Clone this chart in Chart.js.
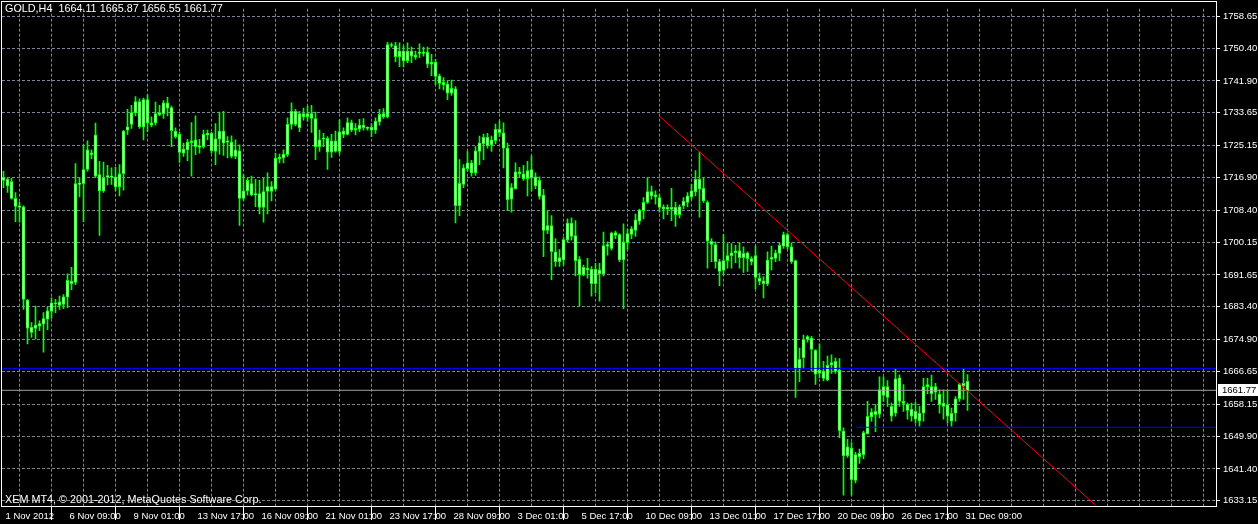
<!DOCTYPE html>
<html>
<head>
<meta charset="utf-8">
<script src="https://cdn.jsdelivr.net/npm/chart.js@4/dist/chart.umd.min.js"></script>
<style>
  html, body { margin: 0; padding: 0; background: #000; }
  #wrap { width: 1258px; height: 524px; }
</style>
</head>
<body>
<div id="wrap"><canvas id="grafico" width="1258" height="524"></canvas></div>
<script>
// GOLD H4, 1 Nov 2012 .. 31 Dec 2012, one value per bar
const open = [
  1716.91,1716.40,1715.81,1711.47,1709.57,1709.32,1685.14,1676.78,1677.80,1678.39,
  1678.90,1680.18,1682.23,1684.45,1683.76,1684.02,1685.91,1689.38,1689.74,1715.12,
  1715.30,1718.96,1723.30,1727.90,1717.68,1713.41,1716.99,1717.24,1716.99,1714.43,
  1717.86,1729.18,1730.64,1733.60,1736.59,1730.02,1737.10,1731.05,1731.05,1733.19,
  1733.45,1736.26,1734.98,1728.92,1728.08,1723.22,1724.07,1726.37,1726.62,1724.66,
  1724.91,1727.90,1728.34,1723.63,1726.80,1728.92,1726.04,1726.04,1722.36,1723.81,
  1711.47,1713.41,1715.30,1712.39,1712.75,1709.16,1713.26,1714.54,1713.85,1722.10,
  1721.95,1722.79,1730.64,1734.04,1729.77,1733.45,1732.58,1733.45,1732.17,1724.91,
  1726.80,1727.06,1723.48,1726.37,1723.63,1728.92,1728.08,1731.15,1729.18,1729.44,
  1730.46,1729.87,1729.18,1729.18,1731.30,1733.45,1732.58,1751.34,1751.08,1748.17,
  1749.63,1747.07,1749.63,1748.09,1749.04,1749.19,1749.37,1746.23,1746.82,1743.24,
  1741.53,1741.12,1738.71,1739.84,1709.57,1715.12,1719.21,1720.67,1718.11,1723.63,
  1725.60,1727.31,1725.35,1726.45,1729.36,1728.49,1724.50,1711.29,1714.02,1718.37,
  1717.86,1716.58,1718.96,1717.09,1716.14,1712.31,1703.19,1704.46,1697.66,1696.13,
  1695.52,1700.63,1705.08,1701.83,1695.70,1691.68,1693.40,1693.14,1689.38,1692.96,
  1691.94,1699.10,1698.51,1702.60,1702.09,1695.52,1700.04,1702.16,1703.19,1705.59,
  1708.30,1710.44,1713.26,1712.39,1711.72,1709.32,1708.66,1709.16,1709.16,1707.28,
  1709.57,1710.44,1711.88,1713.15,1716.40,1714.10,1710.44,1700.37,1699.53,1695.11,
  1692.81,1695.37,1696.64,1697.41,1697.92,1696.13,1697.41,1695.88,1696.64,1690.76,
  1690.15,1689.31,1695.70,1695.96,1697.23,1699.10,1702.09,1698.94,1695.37,1667.40,
  1670.21,1674.92,1675.33,1672.11,1666.12,1666.74,1664.44,1668.27,1669.29,1666.99,
  1651.22,1644.83,1646.80,1638.45,1645.42,1645.09,1650.54,1654.88,1656.34,1655.57,
  1662.72,1662.72,1657.61,1655.82,1665.02,1658.89,1658.12,1656.85,1656.33,1653.78,
  1655.82,1662.72,1662.72,1661.27,1660.76,1658.46,1658.05,1653.78,1655.82,1659.58,
  1662.98,1664.11
];
const high = [
  1718.52,1716.83,1716.66,1713.00,1710.44,1709.57,1685.31,1679.34,1683.61,1679.77,
  1681.89,1683.35,1685.73,1685.31,1686.16,1686.57,1691.94,1693.65,1720.49,1716.83,
  1725.35,1726.37,1724.07,1730.97,1721.08,1720.92,1720.05,1719.39,1719.54,1720.23,
  1729.10,1734.55,1735.57,1737.87,1737.28,1737.44,1738.30,1732.58,1736.41,1735.57,
  1736.85,1737.69,1735.39,1729.77,1728.59,1725.78,1726.80,1731.15,1732.84,1726.80,
  1729.18,1729.18,1728.59,1730.89,1733.86,1734.04,1727.47,1727.72,1726.62,1725.35,
  1717.68,1716.66,1717.24,1716.40,1716.14,1716.66,1718.11,1715.81,1723.22,1722.97,
  1724.07,1732.32,1736.26,1734.55,1734.04,1734.88,1735.39,1735.57,1733.86,1729.18,
  1728.34,1727.47,1728.08,1728.92,1731.74,1729.77,1732.32,1731.74,1730.89,1731.99,
  1732.17,1730.02,1730.89,1732.32,1734.55,1734.73,1751.93,1751.80,1751.93,1751.75,
  1750.91,1751.75,1750.65,1749.63,1751.49,1750.65,1750.65,1748.78,1747.51,1743.67,
  1742.80,1741.96,1742.14,1740.43,1721.51,1720.23,1723.63,1721.33,1724.91,1727.65,
  1728.16,1728.34,1727.65,1730.71,1731.56,1731.05,1725.78,1715.30,1720.67,1719.54,
  1720.05,1721.08,1722.53,1718.11,1717.09,1713.85,1708.30,1707.02,1701.07,1698.25,
  1701.32,1706.18,1706.43,1705.74,1696.39,1694.24,1695.96,1693.83,1694.67,1694.67,
  1702.78,1700.22,1702.78,1703.03,1702.34,1704.90,1703.62,1704.21,1707.45,1708.73,
  1711.72,1716.83,1714.69,1713.41,1712.57,1709.83,1709.83,1714.10,1710.44,1709.83,
  1711.72,1713.00,1715.12,1718.70,1723.48,1716.83,1710.85,1701.07,1700.22,1695.70,
  1702.09,1699.79,1699.79,1699.35,1699.97,1698.94,1697.66,1696.39,1699.10,1692.11,
  1691.26,1697.66,1699.10,1698.07,1699.97,1702.78,1702.52,1699.97,1695.50,1672.69,
  1676.09,1675.94,1675.76,1672.30,1673.79,1669.29,1670.65,1670.98,1670.14,1669.96,
  1652.07,1649.10,1648.23,1645.68,1646.54,1651.22,1658.89,1657.02,1658.05,1665.28,
  1665.28,1664.26,1658.46,1667.40,1665.79,1663.24,1658.46,1658.46,1658.71,1657.61,
  1664.85,1664.85,1665.72,1663.57,1661.88,1661.88,1661.88,1657.18,1660.17,1663.57,
  1667.40,1665.87
];
const low = [
  1714.28,1713.00,1711.29,1705.48,1705.33,1682.74,1673.79,1675.50,1675.07,1677.22,
  1671.67,1677.47,1680.44,1681.89,1682.74,1682.92,1683.17,1687.85,1689.13,1711.88,
  1705.48,1718.52,1721.77,1716.91,1701.91,1713.00,1714.94,1715.12,1713.41,1712.13,
  1713.59,1728.08,1729.61,1732.84,1729.61,1726.62,1728.75,1730.02,1730.46,1732.84,
  1732.17,1732.84,1724.91,1727.06,1720.82,1722.36,1721.26,1717.24,1722.79,1723.22,
  1724.50,1726.62,1723.22,1720.23,1722.97,1722.61,1721.95,1721.95,1721.77,1704.46,
  1711.03,1712.31,1712.13,1709.32,1707.45,1705.33,1707.45,1710.85,1713.59,1720.67,
  1720.67,1722.36,1729.44,1730.28,1728.75,1731.74,1731.48,1728.59,1721.51,1723.63,
  1724.91,1718.96,1722.10,1723.48,1722.97,1727.21,1727.90,1728.75,1727.90,1728.75,
  1729.18,1729.18,1727.47,1728.34,1730.46,1732.17,1732.32,1750.65,1746.82,1745.61,
  1745.54,1746.64,1746.64,1747.51,1747.92,1748.35,1745.36,1743.24,1740.94,1739.84,
  1739.58,1737.03,1738.13,1705.15,1707.02,1714.28,1718.52,1717.24,1717.42,1720.23,
  1721.51,1724.50,1723.63,1725.60,1727.47,1719.39,1708.30,1707.89,1713.85,1716.83,
  1716.14,1712.13,1713.41,1714.02,1711.29,1696.39,1702.34,1690.41,1693.83,1693.83,
  1694.24,1700.22,1700.63,1691.43,1683.61,1691.43,1690.84,1686.16,1686.99,1684.89,
  1691.43,1696.80,1698.07,1701.07,1695.11,1682.92,1698.25,1701.07,1701.65,1704.72,
  1706.18,1710.19,1711.29,1710.01,1707.89,1706.18,1707.28,1705.74,1704.21,1706.43,
  1708.73,1709.32,1711.29,1712.13,1706.61,1710.44,1693.40,1695.11,1693.40,1688.87,
  1691.68,1693.40,1693.40,1694.85,1693.40,1692.30,1692.55,1694.24,1688.03,1689.13,
  1685.73,1688.87,1692.96,1695.11,1695.37,1698.51,1698.25,1694.67,1659.91,1664.00,
  1667.40,1674.23,1666.74,1663.31,1665.02,1664.18,1664.18,1666.12,1666.12,1649.51,
  1634.61,1644.40,1634.61,1637.75,1642.86,1643.99,1650.38,1653.78,1651.04,1654.62,
  1658.89,1657.61,1653.78,1655.06,1657.61,1656.33,1654.29,1653.78,1653.27,1652.50,
  1653.78,1660.93,1658.89,1659.40,1655.82,1654.29,1653.27,1652.50,1653.78,1658.89,
  1659.40,1656.55
];
const close = [
  1716.14,1714.69,1711.47,1709.42,1709.16,1685.31,1677.88,1678.06,1678.65,1679.08,
  1680.36,1682.33,1684.45,1684.19,1684.71,1685.98,1690.25,1690.07,1715.30,1715.38,
  1718.96,1724.07,1722.79,1717.24,1713.41,1716.83,1717.42,1716.99,1714.43,1717.86,
  1728.92,1730.02,1733.70,1736.59,1730.02,1737.10,1731.05,1730.46,1733.45,1733.70,
  1736.26,1734.88,1729.00,1727.47,1723.38,1724.25,1726.04,1725.93,1724.91,1725.09,
  1728.08,1728.34,1723.81,1726.88,1728.92,1725.78,1726.37,1722.36,1724.07,1711.47,
  1713.41,1716.14,1712.39,1712.75,1709.16,1713.26,1714.54,1713.26,1721.95,1721.77,
  1722.97,1730.64,1734.04,1730.64,1733.45,1732.58,1733.45,1732.17,1724.91,1726.62,
  1727.06,1723.48,1726.37,1723.63,1728.75,1728.08,1731.15,1729.18,1729.61,1730.46,
  1729.77,1729.61,1729.95,1731.48,1733.27,1732.58,1751.34,1751.08,1748.17,1749.63,
  1747.07,1749.63,1748.35,1748.61,1749.19,1749.04,1746.23,1746.82,1743.06,1741.27,
  1740.86,1738.71,1739.99,1709.57,1715.38,1719.39,1720.67,1718.11,1723.81,1725.78,
  1727.31,1725.09,1726.62,1729.36,1728.49,1724.50,1711.16,1714.28,1718.37,1717.86,
  1716.58,1718.70,1716.83,1714.69,1711.98,1703.19,1704.46,1697.66,1695.11,1695.11,
  1700.81,1705.08,1701.65,1695.37,1691.68,1693.65,1692.96,1689.38,1693.14,1691.94,
  1699.28,1699.53,1702.52,1701.91,1695.52,1700.22,1702.34,1703.62,1705.92,1708.48,
  1710.44,1713.26,1712.13,1711.88,1709.16,1708.73,1709.16,1708.66,1707.28,1709.32,
  1710.70,1712.13,1713.41,1716.40,1713.85,1710.85,1700.43,1699.53,1695.11,1692.55,
  1695.37,1696.64,1697.41,1697.92,1696.13,1697.23,1695.88,1695.11,1691.02,1690.00,
  1689.38,1695.52,1696.21,1697.41,1699.35,1702.09,1698.94,1695.11,1667.40,1669.80,
  1674.92,1675.68,1672.36,1665.97,1666.99,1664.85,1668.27,1668.94,1666.74,1651.22,
  1644.83,1647.13,1638.62,1645.09,1644.58,1650.79,1655.06,1656.16,1655.49,1661.96,
  1660.42,1659.91,1655.06,1664.77,1658.89,1658.38,1656.59,1655.06,1654.29,1655.82,
  1662.72,1663.24,1660.93,1662.72,1658.05,1657.61,1655.06,1655.82,1659.58,1663.31,
  1663.57,1661.77
];

// time axis labels, one every 16 bars
const timeLabels = ['1 Nov 2012', '6 Nov 09:00', '9 Nov 01:00', '13 Nov 17:00', '16 Nov 09:00',
  '21 Nov 01:00', '23 Nov 17:00', '28 Nov 09:00', '3 Dec 01:00', '5 Dec 17:00', '10 Dec 09:00',
  '13 Dec 01:00', '17 Dec 17:00', '20 Dec 09:00', '26 Dec 17:00', '31 Dec 09:00'];
const priceLabels = [1758.65, 1750.40, 1741.90, 1733.65, 1725.15, 1716.90, 1708.40, 1700.15,
  1691.65, 1683.40, 1674.90, 1666.65, 1658.15, 1649.90, 1641.40, 1633.15];

// drawn objects on the chart
const resistance = 1667.45;
const support = 1652.20;
const supportFrom = 213;
const trendBars = [164, 273];
const trendPrices = [1732.76, 1632.04];

const last = close.length - 1;
const bid = close[last];
const xMin = -0.375, xMax = 303.125;
const yMin = 1631.80, yMax = 1760.62;

const FONT = 'Liberation Sans';
Chart.defaults.font.family = FONT;
Chart.defaults.font.size = 9.5;
Chart.defaults.color = '#ffffff';

const wicks = high.map((h, i) => ({ x: i, y: [low[i], h] }));
const bodies = open.map((o, i) => ({ x: i, y: [o, close[i]] }));

const hline = (price, from) => [{ x: from, y: price }, { x: xMax, y: price }];
const labelAt = v => (v % 16 === 0 && timeLabels[v / 16]) ? timeLabels[v / 16] : '';

const marco = {
  id: 'marco',
  afterDraw(chart) {
    const { ctx, chartArea: a, scales: { y } } = chart;
    ctx.save();
    ctx.strokeStyle = '#ffffff';
    ctx.lineWidth = 1;
    ctx.strokeRect(1.5, 1.5, a.right - 1, a.bottom - 1);

    ctx.font = '10.8px ' + FONT;
    ctx.fillStyle = '#ffffff';
    ctx.textBaseline = 'top';
    ctx.fillText('GOLD,H4  ' + [open[last], high[last], low[last], close[last]].map(v => v.toFixed(2)).join(' '), 5, 4);
    ctx.textBaseline = 'bottom';
    ctx.fillText('XEM MT4, \u00A9 2001-2012, MetaQuotes Software Corp.', 5, a.bottom - 1);

    // bid price tag on the price scale
    const yb = Math.round(y.getPixelForValue(bid));
    ctx.font = '9.5px ' + FONT;
    ctx.fillStyle = '#ffffff';
    ctx.fillRect(a.right + 2, yb - 6, 40, 12);
    ctx.fillStyle = '#000000';
    ctx.textBaseline = 'middle';
    ctx.fillText(bid.toFixed(2), a.right + 6, yb + 0.5);
    ctx.restore();
  }
};

const ctx = document.getElementById('grafico').getContext('2d');

new Chart(ctx, {
  type: 'bar',
  data: {
    datasets: [
      {
        type: 'line', data: trendBars.map((b, i) => ({ x: b, y: trendPrices[i] })),
        borderColor: '#ff0000', borderWidth: 1, pointRadius: 0, order: 0
      },
      {
        type: 'line', data: hline(resistance, xMin),
        borderColor: '#0000ff', borderWidth: 1, pointRadius: 0, order: 0
      },
      {
        type: 'line', data: hline(support, supportFrom),
        borderColor: '#0000ff', borderWidth: 1.2, pointRadius: 0, order: 0
      },
      {
        type: 'line', data: hline(bid, xMin),
        borderColor: '#a0a0a0', borderWidth: 1, pointRadius: 0, order: 0
      },
      {
        data: bodies, backgroundColor: '#ffffff', borderColor: '#00ff00', borderWidth: 1,
        borderSkipped: false, barThickness: 3, minBarLength: 1, grouped: false, order: 1
      },
      {
        data: wicks, backgroundColor: '#00ff00', borderWidth: 0,
        barThickness: 1, grouped: false, order: 2
      }
    ]
  },
  options: {
    responsive: false,
    animation: false,
    layout: { padding: { left: 2, top: 2, right: 0, bottom: 0 } },
    plugins: { legend: { display: false }, tooltip: { enabled: false } },
    scales: {
      x: {
        type: 'linear', min: xMin, max: xMax, offset: false,
        afterBuildTicks: s => { s.ticks = []; for (let v = 0; v <= 300; v += 8) s.ticks.push({ value: v }); },
        afterFit: s => { s.height = 18; },
        ticks: {
          autoSkip: false, maxRotation: 0, align: 'start', labelOffset: 2, padding: -9,
          callback: v => labelAt(v)
        },
        grid: {
          color: c => c.index === 0 ? 'rgba(0,0,0,0)' : '#778899',
          tickColor: c => (c.tick && labelAt(c.tick.value)) ? '#ffffff' : 'rgba(0,0,0,0)',
          tickLength: 14
        },
        border: { display: false, dash: [3, 2] }
      },
      y: {
        type: 'linear', position: 'right', min: yMin, max: yMax,
        afterBuildTicks: s => { s.ticks = priceLabels.map(v => ({ value: v })); },
        afterFit: s => { s.width = 42; },
        ticks: { padding: 3, callback: v => Number(v).toFixed(2) },
        grid: { color: '#778899', tickColor: '#ffffff', tickLength: 4 },
        border: { display: false, dash: [3, 2] }
      }
    }
  },
  plugins: [marco]
});
</script>
</body>
</html>
